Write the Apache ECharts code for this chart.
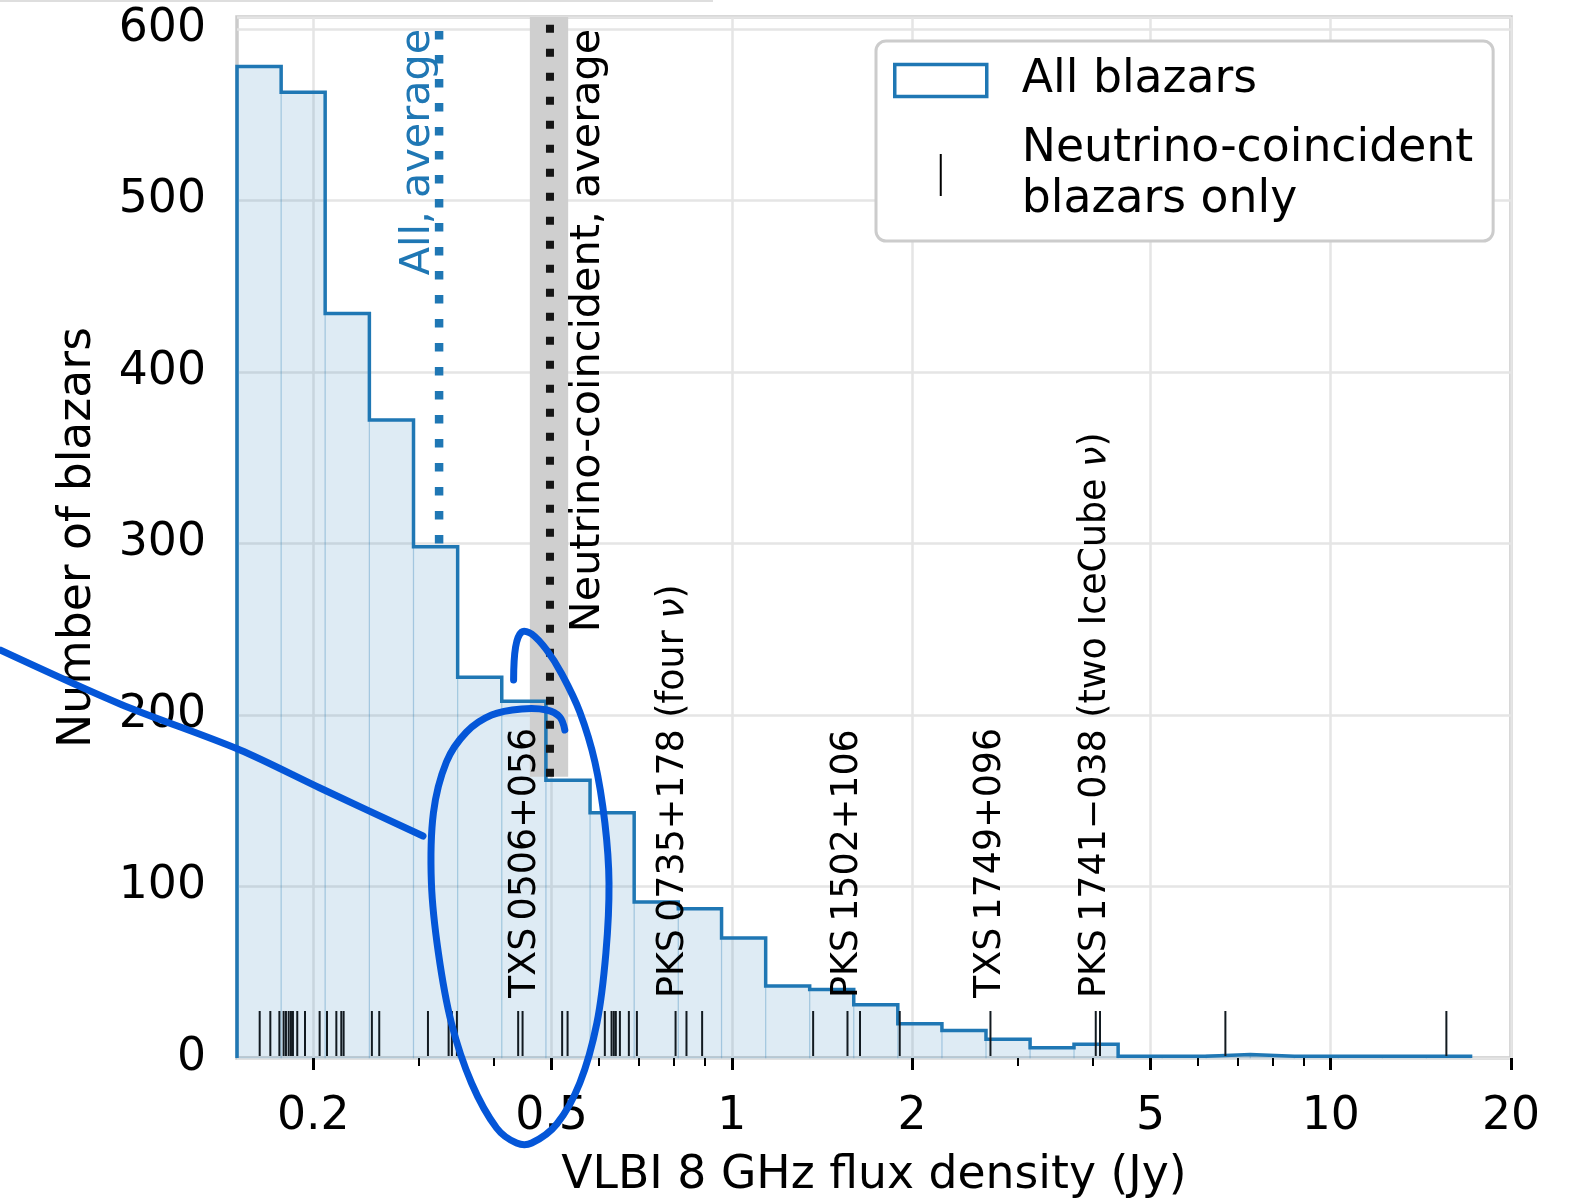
<!DOCTYPE html>
<html>
<head>
<meta charset="utf-8">
<script src="https://cdn.jsdelivr.net/npm/echarts@6/dist/echarts.min.js"></script>
<style>
  html, body { margin: 0; padding: 0; background: #fff; }
  #chart { width: 1573px; height: 1200px; }
</style>
</head>
<body>
<div id="chart"></div>
<script>
// ---- data -------------------------------------------------------------
// Histogram bin edges (Jy), logarithmically spaced
const binEdges = [0.1492, 0.1768, 0.2094, 0.2482, 0.2941, 0.3485, 0.4129, 0.4893,
  0.5798, 0.6870, 0.8140, 0.9613, 1.139, 1.349, 1.598, 1.893, 2.243, 2.657,
  3.148, 3.727, 4.416, 5.231, 6.196, 7.341, 8.696, 10.30, 12.20, 14.45, 17.12];
// Number of blazars in each bin (all blazars)
const allCounts = [578, 563, 434, 372, 298, 222, 208, 162, 143, 91, 87, 70, 42, 40,
  31, 20, 16, 11, 6, 8, 1, 1, 2, 1, 1, 1, 1, 1];
// Flux densities of the neutrino-coincident blazars (Jy)
const nuFlux = [0.1628, 0.1696, 0.1756, 0.1785, 0.1801, 0.1820, 0.1836, 0.1850,
  0.1881, 0.1938, 0.2050, 0.2109, 0.2186, 0.2228, 0.2248, 0.2506, 0.2578, 0.3109,
  0.3366, 0.3409, 0.3475, 0.4398, 0.4473, 0.5208, 0.5318, 0.6137, 0.6298, 0.6353,
  0.6402, 0.6503, 0.6731, 0.6942, 0.8055, 0.8400, 0.8921, 1.367, 1.560, 1.637,
  1.907, 2.703, 4.052, 4.119, 6.670, 15.60];
// Named sources
const sourceNames = ['TXS\u20090506+056', 'PKS\u20090735+178 (four {nu|\u03bd})',
  'PKS\u20091502+106', 'TXS\u20091749+096', 'PKS\u20091741\u2212038 (two IceCube {nu|\u03bd})'];
const sourceFlux = [0.452, 0.80, 1.56, 2.70, 4.05];
// Averages (Jy)
const allAverage = 0.3245;
const nuAverage = 0.497;
const nuAverageRange = [0.460, 0.533];
// Axis ticks
const xTicks = [0.2, 0.5, 1, 2, 5, 10, 20];
const xTickLabels = ['0.2', '0.5', '1', '2', '5', '10', '20'];
const xMinorTicks = [0.3, 0.4, 0.6, 0.7, 0.8, 0.9, 3, 4, 6, 7, 8, 9];

// ---- styling constants -----------------------------------------------
const FONT = 'DejaVu Sans';
const BIG = 45.7;
const C0 = '#1f77b4';
const Y_MAX = 606.9;
const X_MIN = binEdges[0];
const X_MAX = 20;

const chart = echarts.init(document.getElementById('chart'), null, { renderer: 'canvas' });

// step outline of the histogram
const stepPoints = [[binEdges[0], 0]];
allCounts.forEach((c, i) => stepPoints.push([binEdges[i], c]));
stepPoints.push([binEdges[binEdges.length - 1], allCounts[allCounts.length - 1]]);
stepPoints.push([binEdges[binEdges.length - 1], 0]);

const barData = allCounts.map((c, i) => [binEdges[i], binEdges[i + 1], c]);

const option = {
  animation: false,
  backgroundColor: '#fff',
  grid: {
    left: 237, top: 17, right: 62, bottom: 142,
    outerBoundsMode: 'none',
    containLabel: false,
    show: true, borderColor: '#cbcbcb', borderWidth: 3.5, backgroundColor: 'transparent'
  },
  legend: {
    orient: 'vertical',
    left: 876, top: 41,
    padding: [14, 20, 15, 17],
    itemWidth: 122, itemHeight: 42, itemGap: 18,
    backgroundColor: '#fff',
    borderColor: '#cccccc', borderWidth: 3, borderRadius: 10,
    selectedMode: false,
    textStyle: { fontFamily: FONT, fontSize: BIG, color: '#000', lineHeight: 51 },
    formatter: name => name === 'Neutrino-coincident blazars only'
      ? 'Neutrino-coincident\nblazars only' : name,
    data: [
      {
        name: 'All blazars',
        icon: 'path://M0,0M122,42M0,5L92,5L92,37L0,37Z',
        itemStyle: { color: 'rgba(255,255,255,0)', borderColor: C0, borderWidth: 3.5 }
      },
      {
        name: 'Neutrino-coincident blazars only',
        icon: 'path://M0,0M122,42M46,0L46,42',
        itemStyle: { color: 'rgba(255,255,255,0)', borderColor: '#000', borderWidth: 2 }
      }
    ]
  },
  xAxis: [
    {
      type: 'log', logBase: 10, min: X_MIN, max: X_MAX,
      axisLine: { show: false },
      axisTick: { show: true, length: 12, lineStyle: { color: '#000', width: 3 }, customValues: xTicks },
      axisLabel: {
        customValues: xTicks,
        formatter: v => {
          let best = 0;
          xTicks.forEach((t, i) => { if (Math.abs(Math.log(t / v)) < Math.abs(Math.log(xTicks[best] / v))) best = i; });
          return xTickLabels[best];
        },
        fontFamily: FONT, fontSize: BIG, color: '#000', margin: 36
      },
      splitLine: { show: true, lineStyle: { color: '#e5e5e5', width: 2.5 } },
      name: 'VLBI 8 GHz flux density (Jy)',
      nameLocation: 'middle', nameGap: 95,
      nameTextStyle: { fontFamily: FONT, fontSize: BIG, color: '#000' }
    },
    {
      type: 'log', logBase: 10, min: X_MIN, max: X_MAX, position: 'bottom',
      axisLine: { show: false },
      axisTick: { show: true, length: 8, lineStyle: { color: '#000', width: 2 }, customValues: xMinorTicks },
      axisLabel: { show: false },
      splitLine: { show: false }
    }
  ],
  yAxis: {
    type: 'value', min: 0, max: Y_MAX, interval: 100,
    axisLine: { show: false },
    axisTick: { show: false },
    axisLabel: {
      fontFamily: FONT, fontSize: BIG, color: '#000', margin: 31, showMaxLabel: false,
      padding: [6, 0, 0, 0]
    },
    splitLine: { show: true, lineStyle: { color: '#e5e5e5', width: 2.5 } },
    name: 'Number of blazars',
    nameLocation: 'middle', nameGap: 136,
    nameTextStyle: { fontFamily: FONT, fontSize: BIG, color: '#000' }
  },
  series: [
    // filled histogram bars
    {
      type: 'custom', name: 'bars', z: 1, silent: true,
      data: barData,
      encode: { x: [0, 1], y: 2 },
      renderItem: (params, api) => {
        const a = api.coord([api.value(0), 0]);
        const b = api.coord([api.value(1), api.value(2)]);
        return {
          type: 'rect',
          shape: { x: a[0], y: b[1], width: b[0] - a[0], height: a[1] - b[1] },
          style: { fill: 'rgba(31,119,180,0.15)', stroke: 'rgba(31,119,180,0.17)', lineWidth: 1.2 }
        };
      }
    },
    // spread of the neutrino-coincident average
    {
      type: 'custom', name: 'nu-range', z: 2, silent: true,
      data: [[nuAverageRange[0], nuAverageRange[1]]],
      encode: { x: [0, 1] },
      renderItem: (params, api) => {
        const a = api.coord([api.value(0), 164]);
        const b = api.coord([api.value(1), Y_MAX]);
        return {
          type: 'rect',
          shape: { x: a[0], y: b[1], width: b[0] - a[0], height: a[1] - b[1] },
          style: { fill: '#cfcfcf' }
        };
      }
    },
    // histogram outline
    {
      type: 'line', name: 'All blazars', z: 3,
      data: stepPoints, step: 'end',
      symbol: 'none', showSymbol: false,
      lineStyle: { color: C0, width: 3.5, join: 'miter' },
      itemStyle: { color: C0 }
    },
    // average markers
    {
      type: 'custom', name: 'averages', z: 4, silent: true,
      data: [[allAverage, 300], [nuAverage, 164]],
      encode: { x: 0, y: 1 },
      renderItem: (params, api) => {
        const a = api.coord([api.value(0), api.value(1)]);
        const b = api.coord([api.value(0), Y_MAX]);
        const isAll = params.dataIndex === 0;
        return {
          type: 'line',
          shape: { x1: a[0], y1: a[1], x2: b[0], y2: b[1] },
          style: {
            stroke: isAll ? C0 : '#151515',
            lineWidth: isAll ? 8.5 : 8,
            lineDash: isAll ? [8.5, 15.5] : [8, 16],
            lineCap: 'butt'
          }
        };
      }
    },
    {
      type: 'custom', name: 'average labels', z: 6, silent: true,
      data: [[allAverage, 600], [nuAverageRange[1], 600]],
      encode: { x: 0, y: 1 },
      renderItem: (params, api) => {
        const p = api.coord([api.value(0), api.value(1)]);
        const isAll = params.dataIndex === 0;
        return {
          type: 'text',
          x: p[0], y: p[1], rotation: Math.PI / 2,
          style: {
            text: isAll ? 'All, average' : 'Neutrino-coincident, average',
            fontFamily: FONT, fontSize: 41.3,
            fill: isAll ? C0 : '#000',
            align: 'right',
            verticalAlign: isAll ? 'bottom' : 'top'
          }
        };
      }
    },
    // rug of neutrino-coincident blazars
    {
      type: 'custom', name: 'Neutrino-coincident blazars only', z: 5, silent: true,
      data: nuFlux.map(f => [f, 0]),
      encode: { x: 0, y: 1 },
      itemStyle: { color: '#000' },
      renderItem: (params, api) => {
        const p = api.coord([api.value(0), 0]);
        return {
          type: 'line',
          shape: { x1: p[0], y1: p[1] - 2, x2: p[0], y2: p[1] - 47 },
          style: { stroke: '#121a20', lineWidth: 2 }
        };
      }
    },
    // source names
    {
      type: 'custom', name: 'sources', z: 6, silent: true,
      data: sourceFlux.map(f => [f, 35]),
      encode: { x: 0, y: 1 },
      renderItem: (params, api) => {
        const p = api.coord([api.value(0), api.value(1)]);
        return {
          type: 'text',
          x: p[0], y: p[1], rotation: Math.PI / 2,
          style: {
            text: sourceNames[params.dataIndex],
            fontFamily: FONT, fontSize: 36.4, fill: '#000',
            align: 'left', verticalAlign: 'middle',
            rich: { nu: { fontFamily: FONT, fontSize: 36.4, fontStyle: 'italic', fill: '#000' } }
          }
        };
      }
    }
  ],
  graphic: [
    {
      type: 'line', z: 100, silent: true,
      shape: { x1: 0, y1: 1, x2: 713, y2: 1 },
      style: { stroke: '#dedede', lineWidth: 2 }
    },
    // hand-drawn marks around TXS 0506+056
    {
      type: 'polyline', z: 110, silent: true,
      shape: { points: [[0, 650], [120, 704], [240, 750], [320, 788], [423, 836]], smooth: 0.3 },
      style: { stroke: '#0456d8', lineWidth: 7, fill: null, lineCap: 'round', lineJoin: 'round' }
    },
    {
      type: 'polyline', z: 110, silent: true,
      shape: {
        points: [[513.6, 680], [515.6, 647], [521.7, 632], [531.7, 634], [546.7, 650],
          [561.8, 674], [579.8, 712], [594.9, 762], [604.9, 823], [609, 883], [605.9, 953],
          [596.9, 1023], [579.8, 1083], [556.8, 1124], [531.7, 1143], [516.6, 1143],
          [496.6, 1128], [471.5, 1083], [451.4, 1023], [438.4, 953], [431.4, 883],
          [433.4, 813], [446.4, 762], [466.5, 732], [491.6, 715], [521.7, 709],
          [546.7, 710], [559.8, 717], [564.8, 730]],
        smooth: 0.35
      },
      style: { stroke: '#0456d8', lineWidth: 7, fill: null, lineCap: 'round', lineJoin: 'round' }
    }
  ]
};

chart.setOption(option);
</script>
</body>
</html>
